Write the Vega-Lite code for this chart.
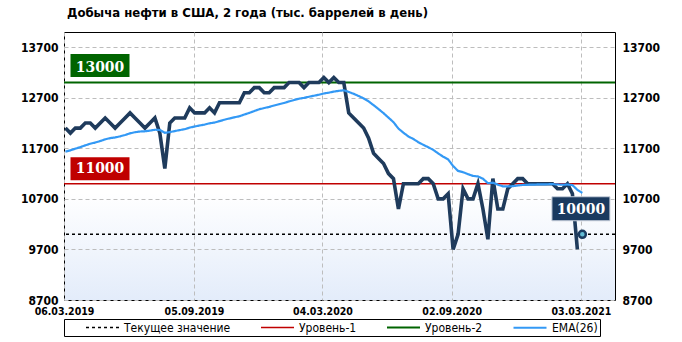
{
  "$schema": "https://vega.github.io/schema/vega-lite/v6.json",
  "width": 551,
  "height": 268,
  "autosize": {"type": "none"},
  "padding": {"left": 64, "top": 32, "right": 67, "bottom": 42},
  "background": "white",
  "title": {
    "text": "Добыча нефти в США, 2 года (тыс. баррелей в день)",
    "anchor": "start",
    "frame": "group",
    "font": "DejaVu Sans Condensed",
    "fontWeight": "bold",
    "fontSize": 13,
    "color": "black",
    "offset": 12,
    "dx": 3
  },
  "datasets": {
    "prod": [
      {"date": "2019-03-08", "value": 12100}, {"date": "2019-03-15", "value": 12000}, {"date": "2019-03-22", "value": 12100}, {"date": "2019-03-29", "value": 12100},
      {"date": "2019-04-05", "value": 12200}, {"date": "2019-04-12", "value": 12200}, {"date": "2019-04-19", "value": 12100}, {"date": "2019-04-26", "value": 12200},
      {"date": "2019-05-03", "value": 12300}, {"date": "2019-05-10", "value": 12200}, {"date": "2019-05-17", "value": 12100}, {"date": "2019-05-24", "value": 12200},
      {"date": "2019-05-31", "value": 12300}, {"date": "2019-06-07", "value": 12400}, {"date": "2019-06-14", "value": 12300}, {"date": "2019-06-21", "value": 12200},
      {"date": "2019-06-28", "value": 12100}, {"date": "2019-07-05", "value": 12200}, {"date": "2019-07-12", "value": 12300}, {"date": "2019-07-19", "value": 12000},
      {"date": "2019-07-26", "value": 11300}, {"date": "2019-08-02", "value": 12200}, {"date": "2019-08-09", "value": 12300}, {"date": "2019-08-16", "value": 12300},
      {"date": "2019-08-23", "value": 12300}, {"date": "2019-08-30", "value": 12500}, {"date": "2019-09-06", "value": 12400}, {"date": "2019-09-13", "value": 12400},
      {"date": "2019-09-20", "value": 12400}, {"date": "2019-09-27", "value": 12500}, {"date": "2019-10-04", "value": 12400}, {"date": "2019-10-11", "value": 12600},
      {"date": "2019-10-18", "value": 12600}, {"date": "2019-10-25", "value": 12600}, {"date": "2019-11-01", "value": 12600}, {"date": "2019-11-08", "value": 12600},
      {"date": "2019-11-15", "value": 12800}, {"date": "2019-11-22", "value": 12800}, {"date": "2019-11-29", "value": 12900}, {"date": "2019-12-06", "value": 12900},
      {"date": "2019-12-13", "value": 12800}, {"date": "2019-12-20", "value": 12800}, {"date": "2019-12-27", "value": 12900}, {"date": "2020-01-03", "value": 12900},
      {"date": "2020-01-10", "value": 12900}, {"date": "2020-01-17", "value": 13000}, {"date": "2020-01-24", "value": 13000}, {"date": "2020-01-31", "value": 13000},
      {"date": "2020-02-07", "value": 12900}, {"date": "2020-02-14", "value": 13000}, {"date": "2020-02-21", "value": 13000}, {"date": "2020-02-28", "value": 13000},
      {"date": "2020-03-06", "value": 13100}, {"date": "2020-03-13", "value": 13000}, {"date": "2020-03-20", "value": 13100}, {"date": "2020-03-27", "value": 13000},
      {"date": "2020-04-03", "value": 13000}, {"date": "2020-04-10", "value": 12400}, {"date": "2020-04-17", "value": 12300}, {"date": "2020-04-24", "value": 12200},
      {"date": "2020-05-01", "value": 12100}, {"date": "2020-05-08", "value": 11900}, {"date": "2020-05-15", "value": 11600}, {"date": "2020-05-22", "value": 11500},
      {"date": "2020-05-29", "value": 11400}, {"date": "2020-06-05", "value": 11200}, {"date": "2020-06-12", "value": 11100}, {"date": "2020-06-19", "value": 10500},
      {"date": "2020-06-26", "value": 11000}, {"date": "2020-07-03", "value": 11000}, {"date": "2020-07-10", "value": 11000}, {"date": "2020-07-17", "value": 11000},
      {"date": "2020-07-24", "value": 11100}, {"date": "2020-07-31", "value": 11100}, {"date": "2020-08-07", "value": 11000}, {"date": "2020-08-14", "value": 10700},
      {"date": "2020-08-21", "value": 10700}, {"date": "2020-08-28", "value": 10800}, {"date": "2020-09-04", "value": 9700}, {"date": "2020-09-11", "value": 10000},
      {"date": "2020-09-18", "value": 10900}, {"date": "2020-09-25", "value": 10700}, {"date": "2020-10-02", "value": 10700}, {"date": "2020-10-09", "value": 11000},
      {"date": "2020-10-16", "value": 10500}, {"date": "2020-10-23", "value": 9900}, {"date": "2020-10-30", "value": 11100}, {"date": "2020-11-06", "value": 10500},
      {"date": "2020-11-13", "value": 10500}, {"date": "2020-11-20", "value": 10900}, {"date": "2020-11-27", "value": 11000}, {"date": "2020-12-04", "value": 11100},
      {"date": "2020-12-11", "value": 11100}, {"date": "2020-12-18", "value": 11000}, {"date": "2020-12-25", "value": 11000}, {"date": "2021-01-01", "value": 11000},
      {"date": "2021-01-08", "value": 11000}, {"date": "2021-01-15", "value": 11000}, {"date": "2021-01-22", "value": 11000}, {"date": "2021-01-29", "value": 10900},
      {"date": "2021-02-05", "value": 10900}, {"date": "2021-02-12", "value": 11000}, {"date": "2021-02-19", "value": 10800}, {"date": "2021-02-26", "value": 9700}
    ],
    "ema": [
      {"date": "2019-03-08", "value": 11635}, {"date": "2019-03-15", "value": 11660}, {"date": "2019-03-22", "value": 11693}, {"date": "2019-03-29", "value": 11723},
      {"date": "2019-04-05", "value": 11758}, {"date": "2019-04-12", "value": 11791}, {"date": "2019-04-19", "value": 11814}, {"date": "2019-04-26", "value": 11843},
      {"date": "2019-05-03", "value": 11877}, {"date": "2019-05-10", "value": 11901}, {"date": "2019-05-17", "value": 11915}, {"date": "2019-05-24", "value": 11936},
      {"date": "2019-05-31", "value": 11963}, {"date": "2019-06-07", "value": 11996}, {"date": "2019-06-14", "value": 12018}, {"date": "2019-06-21", "value": 12032},
      {"date": "2019-06-28", "value": 12037}, {"date": "2019-07-05", "value": 12049}, {"date": "2019-07-12", "value": 12067}, {"date": "2019-07-19", "value": 12062},
      {"date": "2019-07-26", "value": 12006}, {"date": "2019-08-02", "value": 12020}, {"date": "2019-08-09", "value": 12041}, {"date": "2019-08-16", "value": 12060},
      {"date": "2019-08-23", "value": 12078}, {"date": "2019-08-30", "value": 12109}, {"date": "2019-09-06", "value": 12131}, {"date": "2019-09-13", "value": 12151},
      {"date": "2019-09-20", "value": 12169}, {"date": "2019-09-27", "value": 12194}, {"date": "2019-10-04", "value": 12209}, {"date": "2019-10-11", "value": 12238},
      {"date": "2019-10-18", "value": 12265}, {"date": "2019-10-25", "value": 12290}, {"date": "2019-11-01", "value": 12313}, {"date": "2019-11-08", "value": 12334},
      {"date": "2019-11-15", "value": 12368}, {"date": "2019-11-22", "value": 12400}, {"date": "2019-11-29", "value": 12437}, {"date": "2019-12-06", "value": 12472},
      {"date": "2019-12-13", "value": 12496}, {"date": "2019-12-20", "value": 12519}, {"date": "2019-12-27", "value": 12547}, {"date": "2020-01-03", "value": 12573},
      {"date": "2020-01-10", "value": 12597}, {"date": "2020-01-17", "value": 12627}, {"date": "2020-01-24", "value": 12655}, {"date": "2020-01-31", "value": 12680},
      {"date": "2020-02-07", "value": 12697}, {"date": "2020-02-14", "value": 12719}, {"date": "2020-02-21", "value": 12740}, {"date": "2020-02-28", "value": 12759},
      {"date": "2020-03-06", "value": 12784}, {"date": "2020-03-13", "value": 12800}, {"date": "2020-03-20", "value": 12822}, {"date": "2020-03-27", "value": 12836},
      {"date": "2020-04-03", "value": 12848}, {"date": "2020-04-10", "value": 12815}, {"date": "2020-04-17", "value": 12777}, {"date": "2020-04-24", "value": 12734},
      {"date": "2020-05-01", "value": 12687}, {"date": "2020-05-08", "value": 12629}, {"date": "2020-05-15", "value": 12553}, {"date": "2020-05-22", "value": 12475},
      {"date": "2020-05-29", "value": 12395}, {"date": "2020-06-05", "value": 12306}, {"date": "2020-06-12", "value": 12217}, {"date": "2020-06-19", "value": 12090},
      {"date": "2020-06-26", "value": 12009}, {"date": "2020-07-03", "value": 11934}, {"date": "2020-07-10", "value": 11885}, {"date": "2020-07-17", "value": 11821},
      {"date": "2020-07-24", "value": 11769}, {"date": "2020-07-31", "value": 11721}, {"date": "2020-08-07", "value": 11669}, {"date": "2020-08-14", "value": 11599},
      {"date": "2020-08-21", "value": 11534}, {"date": "2020-08-28", "value": 11481}, {"date": "2020-09-04", "value": 11350}, {"date": "2020-09-11", "value": 11252},
      {"date": "2020-09-18", "value": 11227}, {"date": "2020-09-25", "value": 11189}, {"date": "2020-10-02", "value": 11154}, {"date": "2020-10-09", "value": 11144},
      {"date": "2020-10-16", "value": 11098}, {"date": "2020-10-23", "value": 11011}, {"date": "2020-10-30", "value": 11019}, {"date": "2020-11-06", "value": 10982},
      {"date": "2020-11-13", "value": 10948}, {"date": "2020-11-20", "value": 10946}, {"date": "2020-11-27", "value": 10951}, {"date": "2020-12-04", "value": 10964},
      {"date": "2020-12-11", "value": 10975}, {"date": "2020-12-18", "value": 10979}, {"date": "2020-12-25", "value": 10982}, {"date": "2021-01-01", "value": 10985},
      {"date": "2021-01-08", "value": 10987}, {"date": "2021-01-15", "value": 10989}, {"date": "2021-01-22", "value": 10991}, {"date": "2021-01-29", "value": 10986},
      {"date": "2021-02-05", "value": 10981}, {"date": "2021-02-12", "value": 10984}, {"date": "2021-02-19", "value": 10972}, {"date": "2021-02-26", "value": 10879},
      {"date": "2021-03-05", "value": 10816}
    ],
    "levels": [
      {"series": "Текущее значение", "value": 10000},
      {"series": "Уровень-1", "value": 11000},
      {"series": "Уровень-2", "value": 13000}
    ],
    "labels": [
      {"label": "13000", "date": "2019-03-06", "value": 13000},
      {"label": "11000", "date": "2019-03-06", "value": 11000},
      {"label": "10000", "date": "2021-03-03", "value": 10000}
    ],
    "current": [
      {"date": "2021-03-05", "value": 10000}
    ]
  },
  "resolve": {"axis": {"y": "independent"}},
  "layer": [
    {
      "data": {"name": "levels"},
      "mark": {"type": "rule"},
      "encoding": {
        "y": {
          "field": "value", "type": "quantitative",
          "scale": {"domain": [8700, 14000], "nice": false, "zero": false},
          "axis": {"orient": "left", "values": [8700, 9700, 10700, 11700, 12700, 13700], "format": "d", "grid": true, "labelPadding": 6}
        },
        "color": {
          "field": "series", "type": "nominal",
          "scale": {"domain": ["Текущее значение", "Уровень-1", "Уровень-2", "EMA(26)"], "range": ["#000000", "#c00000", "#006400", "#3399f5"]},
          "legend": {
            "orient": "none", "legendX": 0, "legendY": 287, "direction": "horizontal",
            "title": " ", "titleOrient": "left", "titlePadding": 19, "titleFontSize": 10,
            "strokeColor": "black", "padding": 2,
            "symbolType": "M-1,0H5.6", "symbolSize": 100,
            "labelFont": "DejaVu Sans Condensed", "labelFontSize": 12, "labelColor": "black",
            "labelOffset": 27, "columnPadding": 26
          }
        },
        "strokeDash": {
          "field": "series", "type": "nominal",
          "scale": {"domain": ["Текущее значение", "Уровень-1", "Уровень-2", "EMA(26)"], "range": [[3, 3], [1, 0], [1, 0], [1, 0]]}
        },
        "strokeWidth": {
          "field": "series", "type": "nominal",
          "scale": {"domain": ["Текущее значение", "Уровень-1", "Уровень-2", "EMA(26)"], "range": [1.3, 2.2, 2.2, 3.4]}
        }
      }
    },
    {
      "data": {"name": "prod"},
      "mark": {"type": "line", "color": "#1f3b5c", "strokeWidth": 3.6, "strokeJoin": "miter"},
      "encoding": {
        "x": {
          "field": "date", "type": "temporal",
          "scale": {"type": "utc", "domain": [{"year": 2019, "month": 3, "date": 6, "utc": true}, {"year": 2021, "month": 4, "date": 20, "utc": true}]},
          "axis": {
            "values": [
              {"year": 2019, "month": 3, "date": 6, "utc": true},
              {"year": 2019, "month": 9, "date": 5, "utc": true},
              {"year": 2020, "month": 3, "date": 4, "utc": true},
              {"year": 2020, "month": 9, "date": 2, "utc": true},
              {"year": 2021, "month": 3, "date": 3, "utc": true}
            ],
            "labelExpr": "utcFormat(datum.value, '%d.%m.%Y')",
            "grid": true, "labelFlush": false, "labelOverlap": false, "labelPadding": 6,
            "labelFont": "DejaVu Sans Condensed", "labelFontSize": 10.5, "labelFontWeight": "bold"
          }
        },
        "y": {"field": "value", "type": "quantitative", "axis": null}
      }
    },
    {
      "data": {"name": "ema"},
      "mark": {"type": "line"},
      "encoding": {
        "x": {"field": "date", "type": "temporal"},
        "y": {
          "field": "value", "type": "quantitative",
          "axis": {"orient": "right", "values": [8700, 9700, 10700, 11700, 12700, 13700], "format": "d", "grid": false, "labelPadding": 7}
        },
        "color": {"datum": "EMA(26)"},
        "strokeDash": {"datum": "EMA(26)"},
        "strokeWidth": {"datum": "EMA(26)"}
      }
    },
    {
      "data": {"name": "labels"},
      "transform": [{"filter": "datum.label == '13000'"}],
      "mark": {"type": "rect", "color": "#006400", "width": 59, "height": 23, "xOffset": 36, "yOffset": -17},
      "encoding": {
        "x": {"field": "date", "type": "temporal"},
        "y": {"field": "value", "type": "quantitative", "axis": null}
      }
    },
    {
      "data": {"name": "labels"},
      "transform": [{"filter": "datum.label == '11000'"}],
      "mark": {"type": "rect", "color": "#c00000", "width": 59, "height": 23, "xOffset": 36, "yOffset": -15},
      "encoding": {
        "x": {"field": "date", "type": "temporal"},
        "y": {"field": "value", "type": "quantitative", "axis": null}
      }
    },
    {
      "data": {"name": "labels"},
      "transform": [{"filter": "datum.label == '10000'"}],
      "mark": {"type": "rect", "fill": "#1a3a5f", "stroke": "#c8d0dc", "strokeWidth": 1, "width": 58, "height": 24, "xOffset": 0, "yOffset": -25.5},
      "encoding": {
        "x": {"field": "date", "type": "temporal"},
        "y": {"field": "value", "type": "quantitative", "axis": null}
      }
    },
    {
      "data": {"name": "labels"},
      "transform": [{"filter": "datum.label != '10000'"}],
      "mark": {"type": "text", "color": "white", "font": "DejaVu Serif Condensed", "fontWeight": "bold", "fontSize": 15.5, "align": "center", "baseline": "middle", "xOffset": 36, "yOffset": -16},
      "encoding": {
        "x": {"field": "date", "type": "temporal"},
        "y": {"field": "value", "type": "quantitative", "axis": null},
        "text": {"field": "label"}
      }
    },
    {
      "data": {"name": "labels"},
      "transform": [{"filter": "datum.label == '10000'"}],
      "mark": {"type": "text", "color": "white", "font": "DejaVu Serif Condensed", "fontWeight": "bold", "fontSize": 15.5, "align": "center", "baseline": "middle", "xOffset": 0, "yOffset": -25.5},
      "encoding": {
        "x": {"field": "date", "type": "temporal"},
        "y": {"field": "value", "type": "quantitative", "axis": null},
        "text": {"field": "label"}
      }
    },
    {
      "data": {"name": "current"},
      "mark": {"type": "point", "shape": "circle", "filled": true, "fill": "#62bcd4", "stroke": "#1a3a5f", "strokeWidth": 2.5, "size": 50, "opacity": 1},
      "encoding": {
        "x": {"field": "date", "type": "temporal"},
        "y": {"field": "value", "type": "quantitative", "axis": null}
      }
    }
  ],
  "config": {
    "view": {
      "stroke": "black",
      "strokeWidth": 1,
      "fill": {
        "gradient": "linear", "x1": 0, "y1": 0, "x2": 0, "y2": 1,
        "stops": [
          {"offset": 0, "color": "#ffffff"},
          {"offset": 0.6, "color": "#ffffff"},
          {"offset": 1, "color": "#e3ecfa"}
        ]
      }
    },
    "axis": {
      "ticks": false, "domain": false, "title": null,
      "labelColor": "black", "labelFont": "DejaVu Sans Condensed", "labelFontWeight": "bold", "labelFontSize": 12,
      "gridColor": "#bdbdbd", "gridDash": [4, 3], "gridWidth": 1
    }
  }
}
